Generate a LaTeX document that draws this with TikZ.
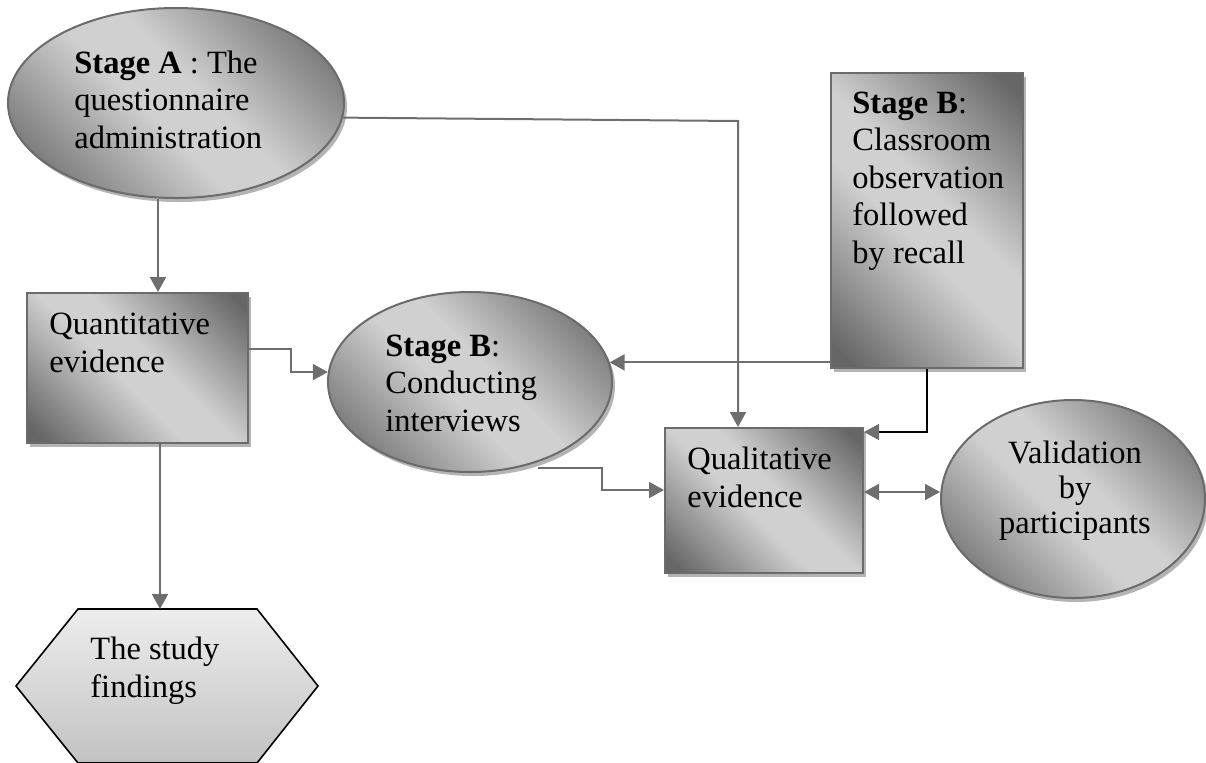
\documentclass[tikz,border=0pt]{standalone}
\usepackage{fontspec}
\setmainfont{Liberation Serif}
\usetikzlibrary{shapes.geometric,shadows,arrows.meta,calc}
\definecolor{shdark}{HTML}{666666}
\definecolor{shlight}{HTML}{D0D0D0}
\definecolor{edgegray}{HTML}{6B6B6B}
\definecolor{linegray}{HTML}{6E6E6E}
\definecolor{shadowgray}{HTML}{B4B4B4}
\definecolor{hextop}{HTML}{EDEDED}
\definecolor{hexbottom}{HTML}{C2C2C2}
% dark corners fading smoothly into a light band across the middle
\pgfdeclarehorizontalshading{diagshade}{100bp}{color(0bp)=(shdark); color(18bp)=(shdark);
  color(45bp)=(shlight); color(55bp)=(shlight); color(82bp)=(shdark); color(100bp)=(shdark)}
\begin{document}
\begin{tikzpicture}[x=0.5pt,y=-0.5pt,
  >={Triangle[length=7.5pt,width=8pt]},
  shaded/.style={draw=edgegray, line width=1pt,
    shading=diagshade, shading angle=45,
    drop shadow={shadow xshift=1.5pt, shadow yshift=-2pt, fill=shadowgray, opacity=1},
    inner sep=0pt},
  oval/.style={shaded, ellipse},
  box/.style={shaded, rectangle},
  txt/.style={inner sep=0pt, align=left, anchor=base west,
    font=\fontsize{16.25pt}{18.75pt}\selectfont},
  conn/.style={draw=linegray, line width=1pt, ->},
  thinconn/.style={draw=black, line width=0.6pt,
    -{Triangle[length=7.5pt,width=8pt,color=linegray]}},
]
\useasboundingbox (0,0) rectangle (1206,762);

% shapes
\node[oval, minimum width=168pt, minimum height=95pt] (A) at (176,103) {};
\node[box, minimum width=96pt, minimum height=147.5pt] (sB) at (927,220.5) {};
\node[box, minimum width=110.5pt, minimum height=75pt] (qt) at (137.5,368) {};
\node[oval, minimum width=142pt, minimum height=90pt] (eB) at (470,382) {};
\node[box, minimum width=99pt, minimum height=72.5pt] (ql) at (764,500.5) {};
\node[oval, minimum width=132pt, minimum height=99pt] (val) at (1073,499) {};
\path[draw=black, line width=0.8pt, top color=hextop, bottom color=hexbottom]
  (78,609) -- (257,609) -- (318,686) -- (257,763) -- (78,763) -- (16,686) -- cycle;
\coordinate (fnd) at (160,609);

% texts (anchored at the baseline of their last line)
\node[txt] (tA) at (74,148) {\textbf{Stage A} : The\\questionnaire\\administration};
\node[txt] (tsB) at (852,263) {\textbf{Stage B}:\\Classroom\\observation\\followed\\by recall};
\node[txt] (tqt) at (49,372) {Quantitative\\evidence};
\node[txt] (teB) at (385,431) {\textbf{Stage B}:\\Conducting\\interviews};
\node[txt] (tql) at (687,507) {Qualitative\\evidence};
\node[txt, anchor=base, align=center, font=\fontsize{16.25pt}{17.5pt}\selectfont]
  (tval) at (1075,533) {Validation\\by\\participants};
\node[txt] (tfnd) at (90,697) {The study\\findings};

% connectors
\draw[conn] ($(A.south)+(-18,0)$) -- ($(qt.north)+(20.5,0)$);
\draw[conn] (A.-5) -- ($(ql.north)+(-26,-306)$) -- ($(ql.north)+(-26,0)$);
\draw[conn] ($(qt.east)+(0,-19)$) -- ++(42,0) |- (eB.176);
\draw[conn] (eB.8 -| sB.west) -- (eB.8);
\draw[thinconn] (sB.south) -- ++(0,63) -- ($(ql.north east)+(0,5)$);
\draw[conn] ($(eB.south)+(68,-5)$) -- ++(64,0) |- ($(ql.west)+(0,-10.5)$);
\draw[conn, <->] ($(ql.east)+(0,-8.5)$) -- ($(val.west)+(0,-7)$);
\draw[conn] ($(qt.south)+(22.5,0)$) -- (fnd);
\end{tikzpicture}
\end{document}
